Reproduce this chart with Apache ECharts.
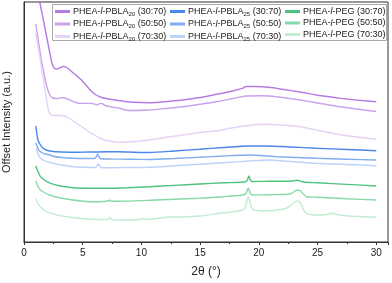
<!DOCTYPE html>
<html>
<head>
<meta charset="utf-8">
<script src="https://cdn.jsdelivr.net/npm/echarts@6/dist/echarts.min.js"></script>
<style>
  html, body { margin: 0; padding: 0; background: #fff; }
  #chart { width: 392px; height: 283px; }
</style>
</head>
<body>
<div id="chart"></div>
<script>
// [2theta, offset intensity]
const p20_3070 = [[1.0,262],[1.34,240],[1.6,225],[2.0,201],[2.2,189],[2.4,178],[2.6,173.5],[2.8,173],[3.1,174.5],[3.4,175.5],[3.7,174],[4.0,171],[4.4,167],[4.8,163],[5.2,158],[5.6,152.5],[6.0,148],[6.5,145],[7.0,143.5],[8.0,141.5],[9.0,140],[10.7,139.3],[12.0,140.3],[13.5,142],[15.0,144.5],[16.4,147.7],[17.6,150.5],[18.6,153.7],[18.9,155.5],[19.6,155.5],[20.3,155.3],[21.2,154.3],[22.0,152.7],[23.5,150],[24.9,147],[26.3,144.7],[27.7,142.7],[29.0,141.2],[30.0,140.3]];
const p20_5050 = [[1.0,218],[1.25,199],[1.48,182],[1.8,163],[2.0,153],[2.2,147],[2.45,144],[2.8,143.5],[3.2,144.3],[3.6,143.5],[4.0,141.5],[4.7,138.7],[5.3,138.6],[5.85,138.5],[6.2,137],[6.45,138.3],[6.65,138.5],[6.9,136.5],[7.5,135],[8.1,133.7],[9.0,131.5],[10.7,132],[12.0,133.5],[13.5,135.3],[15.0,137.8],[16.4,140.3],[17.8,143.5],[18.9,146],[20.0,146.3],[20.9,146],[22.0,144.5],[23.5,142],[24.9,139.3],[26.5,136],[28.0,133.5],[30.0,130.5]];
const p20_7030 = [[1.0,209],[1.25,192],[1.5,174],[1.8,151],[2.1,131],[2.33,127],[2.6,126.5],[3.0,126.5],[3.4,126],[3.8,124],[4.46,119],[4.9,115.5],[5.3,112],[5.9,107.5],[6.44,104],[7.0,101.5],[7.7,100.3],[8.43,99.7],[9.5,100.5],[10.7,102],[12.0,104.5],[13.5,107],[15.0,109.5],[16.65,111.5],[17.5,113.7],[18.8,116],[19.8,117.5],[20.6,117.7],[21.6,117.2],[23.5,115.3],[25.0,111.8],[26.6,108],[28.3,105],[30.0,102.7]];

const p25_3070 = [[1.0,116],[1.1,108],[1.19,102],[1.35,98],[1.62,93.7],[2.0,91.5],[2.47,90.5],[3.2,90],[4.23,89.7],[5.5,90],[7.06,90.3],[8.8,90],[10.7,89.5],[12.8,91],[14.95,92.7],[17.0,94.5],[19.2,96],[20.6,96],[22.7,95],[24.9,93.7],[27.5,92.5],[30.0,91.3]];
const p25_5050 = [[1.0,99.3],[1.1,96],[1.25,92],[1.5,89.5],[1.8,88],[2.25,87],[2.47,85.7],[3.2,84.5],[4.23,83.7],[5.2,83.5],[6.0,83.5],[6.15,85],[6.27,88],[6.4,85],[6.55,83.3],[7.35,83],[9.0,82.7],[10.7,82.5],[12.8,83.5],[14.95,84.7],[17.0,86],[19.2,87],[21.5,85.3],[24.9,83.7],[27.5,82.8],[30.0,82]];
const p25_7030 = [[1.05,94],[1.2,88],[1.4,84],[1.7,81.5],[1.96,80.3],[2.47,78.7],[3.2,77],[4.23,75.3],[5.2,74.7],[6.05,74.5],[6.2,76],[6.33,78],[6.45,76],[6.6,74.3],[7.35,74.3],[9.0,74.5],[10.7,74.7],[12.8,76.2],[14.95,77.7],[17.0,79.3],[19.2,81],[20.9,82],[22.9,80.3],[24.9,78.7],[27.5,77.5],[30.0,76.3]];

const peg_3070 = [[1.0,76.3],[1.15,71.5],[1.4,65.3],[1.8,61.5],[2.25,58.7],[3.0,56.3],[4.23,54.3],[5.6,53.8],[7.06,53.7],[8.8,54.3],[10.7,55.3],[12.8,56.6],[14.95,58],[17.0,59.2],[18.9,60.3],[19.02,62],[19.15,66],[19.28,62],[19.4,60.5],[21.0,60.7],[22.9,61],[23.3,61.7],[23.75,60],[25.0,59.2],[27.5,57.6],[30.0,56]];
const peg_5050 = [[1.0,61.3],[1.15,56.5],[1.4,52],[1.8,49],[2.2,47],[2.81,44.7],[4.0,42.3],[5.65,40.3],[6.8,40.5],[7.2,41.2],[7.3,42],[7.42,41],[8.0,40.8],[10.76,41.7],[12.8,42.7],[14.95,43.7],[17.0,45.3],[18.64,47],[18.9,48.5],[19.05,53],[19.12,53.7],[19.25,49],[19.42,47],[21.0,47.3],[22.6,47.7],[22.9,49.5],[23.2,51.8],[23.45,51.8],[23.75,48.5],[24.03,45.3],[25.0,44.8],[27.5,43.3],[30.0,42]];
const peg_7030 = [[1.0,43.7],[1.2,38],[1.45,34.5],[1.68,32],[2.2,29.2],[2.81,27],[4.0,24.7],[5.65,22.7],[7.1,22.5],[7.3,24.5],[7.5,22.4],[8.49,22],[9.8,22.5],[10.2,23.5],[10.5,22.5],[11.5,23.8],[12.4,25],[13.2,25],[14.95,26],[16.5,28.5],[17.8,30.3],[18.64,32],[18.85,34.5],[18.98,41],[19.1,45.3],[19.22,41],[19.35,35],[19.6,32],[20.6,31],[22.04,32.7],[22.6,35.3],[22.95,39],[23.3,41],[23.55,39],[23.75,33.7],[24.03,28.7],[24.9,27],[25.7,27.3],[26.2,28.7],[26.6,27.5],[27.7,26],[30.0,24.7]];

const seriesNames = [
  'PHEA-l-PBLA20 (30:70)', 'PHEA-l-PBLA20 (50:50)', 'PHEA-l-PBLA20 (70:30)',
  'PHEA-l-PBLA25 (30:70)', 'PHEA-l-PBLA25 (50:50)', 'PHEA-l-PBLA25 (70:30)',
  'PHEA-l-PEG (30:70)', 'PHEA-l-PEG (50:50)', 'PHEA-l-PEG (70:30)'
];
const seriesData = [p20_3070, p20_5050, p20_7030, p25_3070, p25_5050, p25_7030, peg_3070, peg_5050, peg_7030];
const colors = ['#b57be3', '#caa2ec', '#e5d2f6', '#4a87e8', '#82adf0', '#bcd4f8', '#4cc47e', '#88d9a8', '#c3ecd3'];

const FONT = '"Liberation Sans", Arial, sans-serif';

// legend label: italic "l" and subscript block length
function legendLabel(name) {
  const m = name.match(/^PHEA-l-(PBLA|PEG)(\d*) (\(.*\))$/);
  return '{n|PHEA-}{i|l}{n|-' + m[1] + '}' + (m[2] ? '{s|' + m[2] + '}' : '') + '{n| ' + m[3] + '}';
}

const chart = echarts.init(document.getElementById('chart'));

chart.setOption({
  animation: false,
  textStyle: { fontFamily: FONT },
  grid: {
    left: 24, right: 4, top: 2, bottom: 41,
    outerBoundsMode: 'none',
    show: true, borderColor: '#333', borderWidth: 1
  },
  graphic: [{
    type: 'rect',
    z: 6,
    shape: { x: 52.5, y: 4.5, width: 334, height: 36 },
    style: { fill: '#fff', stroke: '#aaa', lineWidth: 1 }
  }],
  legend: [0, 1, 2].map(c => ({
    orient: 'vertical',
    left: [55, 170, 285][c],
    top: 7,
    z: 10,
    padding: 0,
    itemGap: 2.5,
    itemWidth: 15,
    itemHeight: 3,
    icon: 'rect',
    data: seriesNames.slice(c * 3, c * 3 + 3),
    formatter: legendLabel,
    textStyle: {
      color: '#222',
      padding: [0, 0, 0, -2],
      rich: {
        n: { fontSize: 9, lineHeight: 11, fontFamily: FONT, color: '#222' },
        i: { fontSize: 9, lineHeight: 11, fontStyle: 'italic', fontFamily: FONT, color: '#222' },
        s: { fontSize: 6, verticalAlign: 'bottom', fontFamily: FONT, color: '#222' }
      }
    }
  })),
  xAxis: {
    type: 'value',
    min: 0,
    max: 31,
    interval: 5,
    name: '2θ (°)',
    nameLocation: 'middle',
    nameGap: 24,
    nameTextStyle: { fontSize: 12, color: '#222', fontFamily: FONT },
    axisLine: { lineStyle: { color: '#333', width: 1 } },
    axisTick: { length: 3, lineStyle: { color: '#333' } },
    minorTick: { show: true, splitNumber: 2, length: 2, lineStyle: { color: '#333' } },
    axisLabel: {
      fontSize: 10, color: '#222', margin: 6, fontFamily: FONT,
      formatter: v => (v % 5 === 0 ? String(v) : '')
    },
    splitLine: { show: false }
  },
  yAxis: {
    type: 'value',
    min: 0,
    max: 240,
    name: 'Offset Intensity (a.u.)',
    nameLocation: 'middle',
    nameGap: 11.5,
    nameTextStyle: { fontSize: 11, color: '#222', fontFamily: FONT },
    axisLine: { show: true, lineStyle: { color: '#333', width: 1 } },
    axisTick: { show: false },
    axisLabel: { show: false },
    splitLine: { show: false }
  },
  series: seriesData.map((d, k) => ({
    name: seriesNames[k],
    type: 'line',
    data: d,
    color: colors[k],
    showSymbol: false,
    smooth: 0.2,
    clip: true,
    lineStyle: { width: 1.4, color: colors[k] }
  }))
});
</script>
</body>
</html>
